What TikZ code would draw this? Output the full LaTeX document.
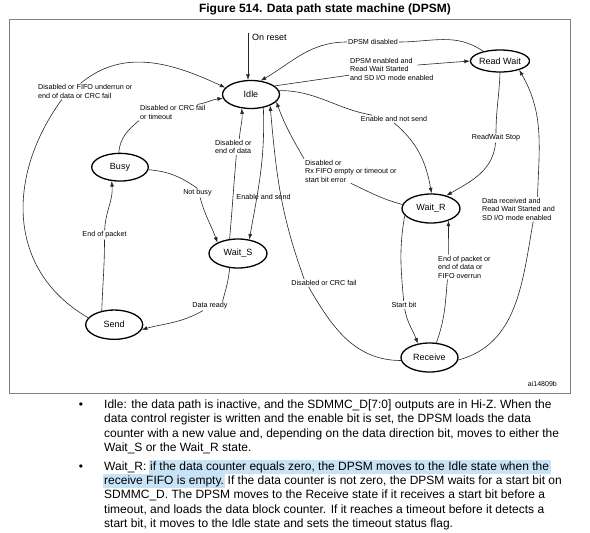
\documentclass[tikz,border=0pt]{standalone}
\usepackage{fontspec}
\setmainfont{Liberation Sans}
\usetikzlibrary{shapes.geometric,arrows.meta}
\definecolor{selblue}{RGB}{200,226,246}
\definecolor{framegray}{RGB}{128,128,128}

\begin{document}
\begin{tikzpicture}[
        x=1pt, y=1pt,
        state/.style={
            % The shape:
            ellipse,
            % The size:
            minimum width=57pt, minimum height=28pt, inner sep=0pt,
            % The border
            draw=black, line width=1.3pt,
            % Font
            font=\fontsize{9}{11}\selectfont
        },
        lbl/.style={
            % The filling
            fill=white, inner sep=1pt, align=left,
            % Font
            font=\fontsize{7.2}{8.5}\selectfont
        },
        trans/.style={
            line width=0.6pt, draw=black!85,
            -{Latex[length=5.5pt,width=4pt]}
        },
        body/.style={
            inner sep=0pt, anchor=base west,
            font=\fontsize{12}{14.4}\selectfont
        },
        marked/.style={
            body, fill=selblue, text height=10pt, text depth=4pt
        }]

        \useasboundingbox (0,0) rectangle (590,-533);

        % Title and frame
        \node[font=\bfseries\fontsize{12}{14}\selectfont, anchor=base, inner sep=0pt] (title) at (325,-12.7) {Figure 514. Data path state machine (DPSM)};
        \draw[framegray, line width=0.9pt] (9,-19) rectangle (570,-393);
        \node[font=\fontsize{7}{8}\selectfont, anchor=base east, inner sep=0pt] (figid) at (557,-386.5) {ai14809b};

        % States
        \node[state] (idle) at (251,-94.5) {Idle};
        \node[state, minimum width=59pt, minimum height=22pt] (rwait) at (500,-61) {Read Wait};
        \node[state, minimum width=56.6pt, minimum height=27.7pt] (busy) at (120,-167.2) {Busy};
        \node[state, minimum width=58pt, minimum height=29pt] (waitS) at (238,-253.5) {Wait\_S};
        \node[state, minimum height=29.3pt] (send) at (114.2,-324.7) {Send};
        \node[state, minimum width=58pt, minimum height=29pt] (waitR) at (431,-208.5) {Wait\_R};
        \node[state, minimum height=29pt] (recv) at (429.5,-357.5) {Receive};

        % Labels
        \node[lbl] (lblDis) at (373,-42) {DPSM disabled};
        \node[lbl, anchor=west] (lblEn) at (349,-69) {DPSM enabled and\\Read Wait Started\\and SD I/O mode enabled};
        \node[lbl] (lblNs) at (394,-119) {Enable and not send};
        \node[lbl] (lblRs) at (496,-138) {ReadWait Stop};
        \node[lbl, anchor=west] (lblDr) at (481,-209) {Data received and\\Read Wait Started and\\SD I/O mode enabled};
        \node[lbl] (lblSb) at (404,-305) {Start bit};
        \node[lbl, anchor=west] (lblEp) at (437,-267) {End of packet or\\end of data or\\FIFO overrun};
        \node[lbl] (lblCrc) at (324,-283) {Disabled or CRC fail};
        \node[lbl, fill=none, anchor=west] (lblRx) at (304,-171) {Disabled or\\Rx FIFO empty or timeout or\\start bit error};
        \node[lbl, fill=none] (lblEs) at (263.5,-197) {Enable and send};
        \node[lbl, anchor=west] (lblEd) at (214,-147) {Disabled or\\end of data};
        \node[lbl] (lblNb) at (197.5,-193) {Not busy};
        \node[lbl, anchor=west] (lblBf) at (139,-112.5) {Disabled or CRC fail\\or timeout};
        \node[lbl, anchor=west] (lblUr) at (37,-91.5) {Disabled or FIFO underrun or\\end of data or CRC fail};
        \node[lbl] (lblEop) at (104.5,-235) {End of packet};
        \node[lbl] (lblDy) at (210,-306) {Data ready};

        % On reset
        \coordinate (reset) at (248,-33);
        \node[font=\fontsize{9}{11}\selectfont, anchor=west, inner sep=0pt] (onreset) at (252,-37.5) {On reset};
        \draw[trans] (reset) -- (reset |- idle.north);

        % Transitions
        \draw[trans] (rwait.150) to[out=145,in=0] (lblDis) to[out=180,in=30] (idle.55);
        \draw[trans] (idle.20) -- (lblEn) ([xshift=-17pt,yshift=4pt]lblEn.east) -- (rwait.west);
        \draw[trans] (idle.8) to[out=0,in=170] (lblNs) (lblNs.south) to[out=-40,in=100] (waitR.88);
        \draw[trans] (rwait.south) to[out=-92,in=90] (lblRs) to[out=-95,in=30] (waitR.40);
        \draw[trans] (recv.-5) to[out=15,in=-100] (lblDr.-40) (lblDr.33) to[out=88,in=-60] (rwait.-25);
        \draw[trans] (waitR.195) to[out=-100,in=95] (lblSb) to[out=-80,in=110] (recv.130);
        \draw[trans] (recv.65) to[out=70,in=-95] (lblEp.216) (lblEp.142) to[out=90,in=-90] (waitR.-35);
        \draw[trans] (recv.186) to[out=180,in=-60] (lblCrc.194) (lblCrc.169) to[out=110,in=-85] (idle.-30);
        \draw[trans] (waitR.172) to[out=165,in=-25] (lblRx.south) (lblRx.north west) to[out=120,in=-70] (idle.-16);
        \draw[trans] (idle.-47) to[out=-88,in=80] (waitS.51);
        \draw[trans] (waitS.120) to[out=85,in=-95] (lblEd.-70) (lblEd.54) to[out=85,in=-85] (idle.236);
        \draw[trans] (busy.-5) to[out=-5,in=145] (lblNb.north) (lblNb.-60) to[out=-75,in=110] (waitS.152);
        \draw[trans] (busy.95) to[out=85,in=-140] (lblBf.south west) (lblBf.18) to[out=10,in=185] (idle.188);
        \draw[trans] (send.165) to[out=150,in=-126,looseness=1.1] (lblUr.199) (lblUr.120) to[out=40,in=155] (idle.165);
        \draw[trans] (send.132) to[out=88,in=-90] (lblEop) to[out=88,in=-85] (busy.239);
        \draw[trans] (waitS.240) to[out=-95,in=75] (lblDy.20) (lblDy.213) to[out=-150,in=15] (send.-10);

        % Text below the figure
        \node[body, anchor=base] (bullet1) at (81,-408.3) {•};
        \foreach \n/\ly/\ltext in {1/408.3/{Idle: the data path is inactive, and the SDMMC\_D[7:0] outputs are in Hi-Z. When the},
            2/422.7/{data control register is written and the enable bit is set, the DPSM loads the data},
            3/437.1/{counter with a new value and, depending on the data direction bit, moves to either the},
            4/451.5/{Wait\_S or the Wait\_R state.}}
        {
            \node[body] (idletext\n) at (104,-\ly) {\ltext};
        }

        \node[body, anchor=base] (bullet2) at (81,-470) {•};
        \node[body] (waitrtext1) at (104,-470) {Wait\_R:};
        \node[marked, inner xsep=1.6pt, xshift=1.7pt] (mark1) at (waitrtext1.base east) {if the data counter equals zero, the DPSM moves to the Idle state when the};
        \node[marked, inner xsep=1pt, xshift=-1pt] (mark2) at (104,-484.4) {receive FIFO is empty.};
        \node[body, xshift=2.3pt] (waitrtext2) at (mark2.base east) {If the data counter is not zero, the DPSM waits for a start bit on};
        \foreach \n/\ly/\ltext in {3/498.8/{SDMMC\_D. The DPSM moves to the Receive state if it receives a start bit before a},
            4/513.2/{timeout, and loads the data block counter. If it reaches a timeout before it detects a},
            5/527.6/{start bit, it moves to the Idle state and sets the timeout status flag.}}
        {
            \node[body] (waitrtext\n) at (104,-\ly) {\ltext};
        }

    \end{tikzpicture}
\end{document}
